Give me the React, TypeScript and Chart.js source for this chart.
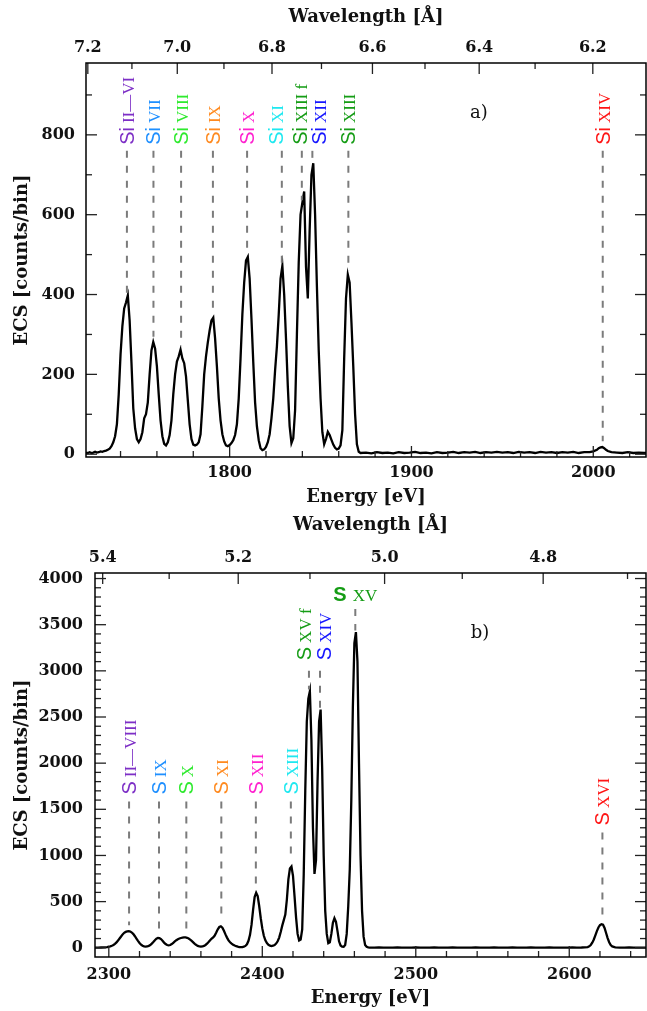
import React, { useEffect, useRef } from "react";
import { Chart, registerables } from "chart.js";

Chart.register(...registerables);

const HC = 12398.42; // eV * Angstrom

// ---------------- Panel a) : silicon ----------------
const siEnergy = [
  1721, 1722, 1723, 1724, 1725, 1726, 1727, 1728, 1729, 1730,
  1731, 1732, 1733, 1734, 1735, 1736, 1737, 1738, 1739, 1740,
  1741, 1742, 1743, 1744, 1745, 1746, 1747, 1748, 1749, 1750,
  1751, 1752, 1753, 1754, 1755, 1756, 1757, 1758, 1759, 1760,
  1761, 1762, 1763, 1764, 1765, 1766, 1767, 1768, 1769, 1770,
  1771, 1772, 1773, 1774, 1775, 1776, 1777, 1778, 1779, 1780,
  1781, 1782, 1783, 1784, 1785, 1786, 1787, 1788, 1789, 1790,
  1791, 1792, 1793, 1794, 1795, 1796, 1797, 1798, 1799, 1800,
  1801, 1802, 1803, 1804, 1805, 1806, 1807, 1808, 1809, 1810,
  1811, 1812, 1813, 1814, 1815, 1816, 1817, 1818, 1819, 1820,
  1821, 1822, 1823, 1824, 1825, 1826, 1827, 1828, 1829, 1830,
  1831, 1832, 1833, 1834, 1835, 1836, 1837, 1838, 1839, 1840,
  1841, 1842, 1843, 1844, 1845, 1846, 1847, 1848, 1849, 1850,
  1851, 1852, 1853, 1854, 1855, 1856, 1857, 1858, 1859, 1860,
  1861, 1862, 1863, 1864, 1865, 1866, 1867, 1868, 1869, 1870,
  1871, 1872,
  1875, 1878, 1881, 1884, 1887, 1890, 1893, 1896, 1899, 1902,
  1905, 1908, 1911, 1914, 1917, 1920, 1923, 1926, 1929, 1932,
  1935, 1938, 1941, 1944, 1947, 1950, 1953, 1956, 1959, 1962,
  1965, 1968, 1971, 1974, 1977, 1980, 1983, 1986, 1989, 1992,
  1995, 1998,
  2000, 2002, 2003, 2004, 2005, 2006, 2007, 2008, 2010, 2013,
  2016, 2019, 2022, 2025, 2028, 2029,
];
const siCounts = [
  4, 3, 5, 3, 4, 6, 4, 5, 7, 6,
  8, 9, 11, 14, 20, 30, 45, 75, 150, 250,
  320, 365, 380, 398, 335, 230, 115, 65, 38, 30,
  38, 55, 90, 100, 130, 200, 260, 281, 265, 220,
  150, 85, 45, 26, 22, 30, 48, 85, 150, 200,
  232, 245, 262, 240, 228, 195, 135, 75, 38, 24,
  22, 24, 30, 50, 120, 200, 245, 280, 310, 335,
  342, 290, 220, 140, 85, 50, 32, 22, 20, 23,
  28, 35, 48, 75, 140, 240, 350, 430, 485, 494,
  440, 340, 230, 130, 70, 35, 15, 10, 12, 18,
  30, 50, 90, 140, 210, 270, 350, 440, 472, 400,
  290, 170, 70, 28, 40, 110, 300, 480, 600, 630,
  658, 470, 390, 560, 700, 729, 600, 420, 260, 140,
  55, 25, 38, 56, 48, 36, 24, 16, 12, 14,
  22, 60, 240, 390, 450, 430, 330, 220, 100, 25,
  6, 3,
  4, 2, 5, 3, 4, 2, 5, 3, 4, 6,
  3, 4, 2, 5, 3, 4, 6, 3, 5, 4,
  6, 3, 5, 4, 6, 4, 5, 3, 6, 4,
  5, 3, 6, 4, 5, 3, 5, 4, 6, 3,
  5, 5,
  7, 11, 15, 17, 18, 15, 11, 8, 5, 4,
  3, 5, 3, 4, 3, 3,
];
const siLineEnergy = [1743.5, 1758.1, 1773.3, 1790.8, 1809.6, 1828.7, 1839.7, 1845.5, 1865.3, 2005.2];
const siLineIon = ["II\u2014VI", "VII", "VIII", "IX", "X", "XI", "XIII f", "XII", "XIII", "XIV"];
const siEnergyMajor = [1800, 1900, 2000];
const siEnergyMinor = [1740, 1760, 1780, 1820, 1840, 1860, 1880, 1920, 1940, 1960, 1980, 2020];
const siWaveMajor = [7.2, 7.0, 6.8, 6.6, 6.4, 6.2];
const siWaveMinor = [7.1, 6.9, 6.7, 6.5, 6.3];
const siCountMajor = [0, 200, 400, 600, 800];
const siCountMinor = [100, 300, 500, 700, 900];

// ---------------- Panel b) : sulphur ----------------
const sEnergy = [
  2291, 2293, 2295, 2297, 2299,
  2300, 2301, 2302, 2303, 2304, 2305, 2306, 2307, 2308, 2309,
  2310, 2311, 2312, 2313, 2314, 2315, 2316, 2317, 2318, 2319,
  2320, 2321, 2322, 2323, 2324, 2325, 2326, 2327, 2328, 2329,
  2330, 2331, 2332, 2333, 2334, 2335, 2336, 2337, 2338, 2339,
  2340, 2341, 2342, 2343, 2344, 2345, 2346, 2347, 2348, 2349,
  2350, 2351, 2352, 2353, 2354, 2355, 2356, 2357, 2358, 2359,
  2360, 2361, 2362, 2363, 2364, 2365, 2366, 2367, 2368, 2369,
  2370, 2371, 2372, 2373, 2374, 2375, 2376, 2377, 2378, 2379,
  2380, 2381, 2382, 2383, 2384, 2385, 2386, 2387, 2388, 2389,
  2390, 2391, 2392, 2393, 2394, 2395, 2396, 2397, 2398, 2399,
  2400, 2401, 2402, 2403, 2404, 2405, 2406, 2407, 2408, 2409,
  2410, 2411, 2412, 2413, 2414, 2415, 2416, 2417, 2418, 2419,
  2420, 2421, 2422, 2423, 2424, 2425, 2426, 2427, 2428, 2429,
  2430, 2431, 2432, 2433, 2434, 2435, 2436, 2437, 2438, 2439,
  2440, 2441, 2442, 2443, 2444, 2445, 2446, 2447, 2448, 2449,
  2450, 2451, 2452, 2453, 2454, 2455, 2456, 2457, 2458, 2459,
  2460, 2461, 2462, 2463, 2464, 2465, 2466, 2467, 2468, 2469,
  2470,
  2473, 2476, 2479, 2482, 2485, 2488, 2491, 2494, 2497, 2500,
  2503, 2506, 2509, 2512, 2515, 2518, 2521, 2524, 2527, 2530,
  2533, 2536, 2539, 2542, 2545, 2548, 2551, 2554, 2557, 2560,
  2563, 2566, 2569, 2572, 2575, 2578, 2581, 2584, 2587, 2590,
  2593, 2596, 2599, 2602, 2605, 2608,
  2610, 2612, 2613, 2614, 2615, 2616, 2617, 2618, 2619, 2620,
  2621, 2622, 2623, 2624, 2625, 2626, 2627, 2628,
  2630, 2633, 2636, 2639, 2642, 2645, 2648, 2650,
];
const sCounts = [
  2, 1, 3, 4, 8,
  12, 16, 22, 30, 42, 58, 78, 100, 122, 145,
  162, 172, 178, 180, 176, 165, 148, 125, 100, 75,
  52, 35, 22, 15, 12, 14, 20, 30, 45, 62,
  82, 98, 106, 104, 94, 76, 56, 40, 30, 26,
  30, 40, 54, 68, 82, 93, 100, 106, 110, 112,
  112, 108, 100, 88, 74, 58, 42, 30, 20, 14,
  12, 14, 20, 30, 44, 62, 82, 98, 112, 132,
  165, 200, 225, 232, 218, 185, 145, 110, 80, 60,
  45, 33, 24, 17, 12, 8, 6, 8, 12, 20,
  38, 75, 140, 250, 410, 550, 596, 560, 450, 320,
  210, 130, 80, 50, 32, 22, 18, 22, 30, 45,
  70, 110, 170, 240, 300, 360, 520, 740, 860, 880,
  780, 560, 330, 150, 80, 90, 200, 800, 1700, 2450,
  2700, 2780, 2250, 1300, 800, 950, 1800, 2450, 2580, 1950,
  1000, 400, 150, 50, 60, 150, 270, 320, 280, 180,
  70, 25, 12, 10, 30, 150, 450, 850, 1600, 2600,
  3300, 3420, 3100, 2000, 1000, 400, 120, 30, 10, 4,
  2,
  1, 3, 1, 2, 1, 3, 2, 1, 2, 3,
  1, 2, 1, 3, 2, 1, 2, 3, 1, 2,
  1, 2, 3, 1, 2, 1, 3, 2, 1, 2,
  3, 1, 2, 1, 3, 2, 1, 2, 3, 1,
  2, 2, 1, 3, 2, 3,
  5, 8, 15, 30, 55, 90, 135, 180, 220, 245,
  255, 250, 215, 160, 105, 60, 30, 14,
  5, 2, 1, 3, 2, 1, 2, 1,
];
const sLineEnergy = [2313.2, 2332.7, 2350.5, 2373.3, 2395.8, 2418.6, 2430.4, 2437.6, 2460.6, 2621.6];
const sLineIon = ["II\u2014VIII", "IX", "X", "XI", "XII", "XIII", "XV f", "XIV", "XV", "XVI"];
const sEnergyMajor = [2300, 2400, 2500, 2600];
const sEnergyMinor = [2320, 2340, 2360, 2380, 2420, 2440, 2460, 2480, 2520, 2540, 2560, 2580, 2620, 2640];
const sWaveMajor = [5.4, 5.2, 5.0, 4.8];
const sWaveMinor = [5.3, 5.1, 4.9, 4.7];
const sCountMajor = [0, 500, 1000, 1500, 2000, 2500, 3000, 3500, 4000];
const sCountMinor = [
  100, 200, 300, 400, 600, 700, 800, 900, 1100, 1200, 1300, 1400,
  1600, 1700, 1800, 1900, 2100, 2200, 2300, 2400, 2600, 2700, 2800, 2900,
  3100, 3200, 3300, 3400, 3600, 3700, 3800, 3900,
];

// ---------------- styling / layout ----------------
const PURPLE = "#7d2fc6";
const AZURE = "#1e8fff";
const LIME = "#2eea2e";
const ORANGE = "#ff8a1f";
const MAGENTA = "#ff20cf";
const CYAN = "#1ee8f0";
const GREEN = "#159c15";
const BLUE = "#1515ff";
const RED = "#ff1515";

const INK = "#111111";
const SERIF = '"DejaVu Serif", serif';
const TICK_FONT = { family: SERIF, size: 16, weight: "bold" as const };
const TITLE_FONT = { family: SERIF, size: 18, weight: "bold" as const };

type Panel = {
  key: string;
  element: string;
  height: number;
  left: number;
  right: number;
  top: number;
  bottom: number;
  xMin: number;
  xMax: number;
  yMin: number;
  yMax: number;
  energy: number[];
  counts: number[];
  lineEnergy: number[];
  lineIon: string[];
  colors: string[];
  dx: number[];
  labelBase: number[];
  dashTop: number[];
  upright: boolean[];
  eMajor: number[];
  eMinor: number[];
  wMajor: number[];
  wMinor: number[];
  cMajor: number[];
  cMinor: number[];
  tag: { text: string; x: number; y: number };
  pad: { xTick: number; xTitle: number; x2Tick: number; x2Title: number; yTick: number; yTitle: number };
};

const panelA: Panel = {
  key: "a",
  element: "Si",
  height: 510,
  left: 86,
  right: 646,
  top: 63,
  bottom: 457,
  xMin: 1721,
  xMax: 2029,
  yMin: -7,
  yMax: 980,
  energy: siEnergy,
  counts: siCounts,
  lineEnergy: siLineEnergy,
  lineIon: siLineIon,
  colors: [PURPLE, AZURE, LIME, ORANGE, MAGENTA, CYAN, GREEN, BLUE, GREEN, RED],
  dx: [0, 0, 0, 0, 0, -6, -2, 7, 0, 0],
  labelBase: [775, 775, 775, 775, 775, 775, 775, 775, 775, 775],
  dashTop: [760, 760, 760, 760, 760, 760, 760, 760, 760, 760],
  upright: [false, false, false, false, false, false, false, false, false, false],
  eMajor: siEnergyMajor,
  eMinor: siEnergyMinor,
  wMajor: siWaveMajor,
  wMinor: siWaveMinor,
  cMajor: siCountMajor,
  cMinor: siCountMinor,
  tag: { text: "a)", x: 479, y: 113 },
  pad: { xTick: 6, xTitle: 2, x2Tick: 5.5, x2Title: 7, yTick: 11, yTitle: 12 },
};

const panelB: Panel = {
  key: "b",
  element: "S",
  height: 501,
  left: 95,
  right: 646,
  top: 63,
  bottom: 447,
  xMin: 2291,
  xMax: 2650,
  yMin: -100,
  yMax: 4060,
  energy: sEnergy,
  counts: sCounts,
  lineEnergy: sLineEnergy,
  lineIon: sLineIon,
  colors: [PURPLE, AZURE, LIME, ORANGE, MAGENTA, CYAN, GREEN, BLUE, GREEN, RED],
  dx: [0, 0, 0, 0, 0, 0, -5, 4, 0, 0],
  labelBase: [1660, 1660, 1660, 1660, 1660, 1660, 3115, 3115, 3830, 1325],
  dashTop: [1585, 1585, 1585, 1585, 1585, 1585, 3000, 3000, 3670, 1250],
  upright: [false, false, false, false, false, false, false, false, true, false],
  eMajor: sEnergyMajor,
  eMinor: sEnergyMinor,
  wMajor: sWaveMajor,
  wMinor: sWaveMinor,
  cMajor: sCountMajor,
  cMinor: sCountMinor,
  tag: { text: "b)", x: 480, y: 123 },
  pad: { xTick: 8, xTitle: 2, x2Tick: 6, x2Title: 5, yTick: 12, yTitle: 12 },
};

function interp(e: number, xs: number[], ys: number[]): number {
  for (let i = 0; i < xs.length - 1; i++) {
    if (e >= xs[i] && e <= xs[i + 1]) {
      const t = (e - xs[i]) / (xs[i + 1] - xs[i]);
      return ys[i] + t * (ys[i + 1] - ys[i]);
    }
  }
  return 0;
}

function framePlugin(p: Panel) {
  return {
    id: "frame-" + p.key,
    afterDatasetsDraw(chart: any) {
      const { ctx, chartArea: a, scales } = chart;
      const xs = scales.x;
      const ys = scales.y;
      ctx.save();

      // dashed line markers
      ctx.setLineDash([7, 8]);
      ctx.lineWidth = 2;
      ctx.strokeStyle = "#7b7b7b";
      p.lineEnergy.forEach((e, i) => {
        const px = xs.getPixelForValue(e);
        const y1 = ys.getPixelForValue(p.dashTop[i]);
        const y2 = ys.getPixelForValue(interp(e, p.energy, p.counts)) - 6;
        if (y2 > y1) {
          ctx.beginPath();
          ctx.moveTo(px, y1);
          ctx.lineTo(px, y2);
          ctx.stroke();
        }
      });
      ctx.setLineDash([]);

      // ion labels
      const elemFont = '20px "Liberation Sans", sans-serif';
      const elemFontBold = 'bold 20px "Liberation Sans", sans-serif';
      const ionFont = '17px "Liberation Serif", serif';
      p.lineEnergy.forEach((e, i) => {
        const px = xs.getPixelForValue(e) + p.dx[i];
        const yb = ys.getPixelForValue(p.labelBase[i]);
        ctx.fillStyle = p.colors[i];
        ctx.textBaseline = "alphabetic";
        ctx.textAlign = "left";
        if (p.upright[i]) {
          ctx.font = elemFontBold;
          const w1 = ctx.measureText(p.element).width;
          ctx.font = ionFont;
          const w2 = ctx.measureText(p.lineIon[i]).width;
          const gap = 6;
          const x0 = px - (w1 + gap + w2) / 2;
          ctx.font = elemFontBold;
          ctx.fillText(p.element, x0, yb + 7);
          ctx.font = ionFont;
          ctx.fillText(p.lineIon[i], x0 + w1 + gap, yb + 7);
        } else {
          ctx.save();
          ctx.translate(px + 7, yb);
          ctx.rotate(-Math.PI / 2);
          ctx.font = elemFont;
          ctx.fillText(p.element, 0, 0);
          const w1 = ctx.measureText(p.element).width;
          ctx.font = ionFont;
          ctx.fillText(p.lineIon[i], w1 + 4, 0);
          ctx.restore();
        }
      });

      // panel tag
      ctx.fillStyle = INK;
      ctx.font = '18px "DejaVu Serif", serif';
      ctx.textAlign = "center";
      ctx.textBaseline = "middle";
      ctx.fillText(p.tag.text, p.tag.x, p.tag.y);

      // inward ticks
      ctx.strokeStyle = "#222";
      ctx.lineWidth = 1.3;
      const MAJ = 11;
      const MIN = 6;
      const seg = (x1: number, y1: number, x2: number, y2: number) => {
        ctx.beginPath();
        ctx.moveTo(x1, y1);
        ctx.lineTo(x2, y2);
        ctx.stroke();
      };
      p.eMajor.forEach((v) => {
        const x = xs.getPixelForValue(v);
        seg(x, a.bottom, x, a.bottom - MAJ);
      });
      p.eMinor.forEach((v) => {
        const x = xs.getPixelForValue(v);
        seg(x, a.bottom, x, a.bottom - MIN);
      });
      p.wMajor.forEach((l) => {
        const x = xs.getPixelForValue(HC / l);
        seg(x, a.top, x, a.top + MAJ);
      });
      p.wMinor.forEach((l) => {
        const x = xs.getPixelForValue(HC / l);
        seg(x, a.top, x, a.top + MIN);
      });
      p.cMajor.forEach((v) => {
        const y = ys.getPixelForValue(v);
        seg(a.left, y, a.left + MAJ, y);
        seg(a.right, y, a.right - MAJ, y);
      });
      p.cMinor.forEach((v) => {
        const y = ys.getPixelForValue(v);
        seg(a.left, y, a.left + MIN, y);
        seg(a.right, y, a.right - MIN, y);
      });

      // frame
      ctx.strokeStyle = "#000";
      ctx.lineWidth = 1.5;
      ctx.strokeRect(a.left, a.top, a.right - a.left, a.bottom - a.top);
      ctx.restore();
    },
  };
}

function makeChart(canvas: HTMLCanvasElement, p: Panel) {
  const hidden = { display: false, drawTicks: false };
  return new Chart(canvas, {
    type: "line",
    data: {
      datasets: [
        {
          data: p.energy.map((e, i) => ({ x: e, y: p.counts[i] })),
          borderColor: "#000",
          borderWidth: 2.3,
          pointRadius: 0,
          tension: 0,
          fill: false,
        },
      ],
    },
    options: {
      animation: false,
      responsive: false,
      maintainAspectRatio: false,
      layout: { padding: { left: 0, right: 647 - p.right, top: 0, bottom: 0 } },
      plugins: { legend: { display: false }, tooltip: { enabled: false } },
      scales: {
        x: {
          type: "linear",
          position: "bottom",
          min: p.xMin,
          max: p.xMax,
          grid: hidden,
          border: { display: false },
          afterBuildTicks: (s: any) => {
            s.ticks = p.eMajor.map((v) => ({ value: v }));
          },
          afterFit: (s: any) => {
            s.height = p.height - p.bottom;
          },
          ticks: {
            autoSkip: false,
            maxRotation: 0,
            padding: p.pad.xTick,
            font: TICK_FONT,
            color: INK,
            callback: (v: any) => String(v),
          },
          title: {
            display: true,
            text: "Energy [eV]",
            font: TITLE_FONT,
            color: INK,
            padding: { top: 0, bottom: p.pad.xTitle },
          },
        },
        x2: {
          type: "linear",
          position: "top",
          min: p.xMin,
          max: p.xMax,
          grid: hidden,
          border: { display: false },
          afterBuildTicks: (s: any) => {
            s.ticks = p.wMajor.map((l) => ({ value: HC / l }));
          },
          afterFit: (s: any) => {
            s.height = p.top;
          },
          ticks: {
            autoSkip: false,
            maxRotation: 0,
            padding: p.pad.x2Tick,
            font: TICK_FONT,
            color: INK,
            callback: (_v: any, i: number) => p.wMajor[i].toFixed(1),
          },
          title: {
            display: true,
            text: "Wavelength [\u00c5]",
            font: TITLE_FONT,
            color: INK,
            padding: { top: p.pad.x2Title, bottom: 0 },
          },
        },
        y: {
          type: "linear",
          position: "left",
          min: p.yMin,
          max: p.yMax,
          grid: hidden,
          border: { display: false },
          afterBuildTicks: (s: any) => {
            s.ticks = p.cMajor.map((v) => ({ value: v }));
          },
          afterFit: (s: any) => {
            s.width = p.left;
          },
          ticks: {
            autoSkip: false,
            padding: p.pad.yTick,
            font: TICK_FONT,
            color: INK,
            callback: (v: any) => String(v),
          },
          title: {
            display: true,
            text: "ECS [counts/bin]",
            font: TITLE_FONT,
            color: INK,
            padding: { top: p.pad.yTitle, bottom: 0 },
          },
        },
      },
    } as any,
    plugins: [framePlugin(p)],
  });
}

export default function App() {
  const refA = useRef<HTMLCanvasElement>(null);
  const refB = useRef<HTMLCanvasElement>(null);
  useEffect(() => {
    const a = makeChart(refA.current as HTMLCanvasElement, panelA);
    const b = makeChart(refB.current as HTMLCanvasElement, panelB);
    return () => {
      a.destroy();
      b.destroy();
    };
  }, []);
  return (
    <div style={{ position: "absolute", left: 0, top: 0, width: 647, height: 1011, background: "#fff" }}>
      <canvas ref={refA} width={647} height={510} style={{ display: "block", width: 647, height: 510 }} />
      <canvas ref={refB} width={647} height={501} style={{ display: "block", width: 647, height: 501 }} />
    </div>
  );
}
